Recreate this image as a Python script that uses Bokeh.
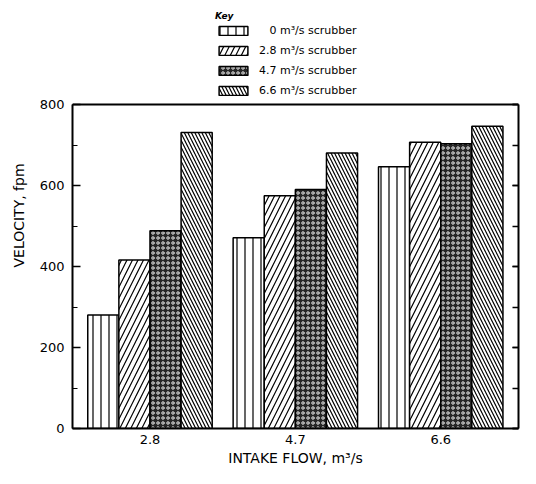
from bokeh.plotting import figure
from bokeh.models import (ColumnDataSource, Range1d, FixedTicker, SingleIntervalTicker,
                          LinearAxis, Legend, LegendItem, CustomJSTickFormatter, Span)
from bokeh.transform import dodge
from bokeh.embed import file_html
from bokeh.resources import INLINE

# ---- data ----
flows = ["2.8", "4.7", "6.6"]
scrub_0 = [280, 471, 646]
scrub_28 = [416, 575, 707]
scrub_47 = [488, 590, 703]
scrub_66 = [731, 680, 746]
series_labels = ["\u2007\u20080 m\u00b3/s scrubber", "2.8 m\u00b3/s scrubber",
                 "4.7 m\u00b3/s scrubber", "6.6 m\u00b3/s scrubber"]
y_max = 800
y_ticks_major = 200

FONT = "DejaVu Sans"

# ---- layout (pixels) ----
W, H = 520, 468
BORDER_TOP, BORDER_BOTTOM, BORDER_LEFT, BORDER_RIGHT = 2, 40, 72, 2
AXIS_TOP_PX = 104
frame_h = H - BORDER_TOP - BORDER_BOTTOM
plot_h = H - BORDER_BOTTOM - AXIS_TOP_PX
y_end = y_max * frame_h / plot_h   # extra head-room above the chart holds the key

src = ColumnDataSource(dict(x=list(range(len(flows))), s0=scrub_0, s28=scrub_28,
                            s47=scrub_47, s66=scrub_66))

p = figure(width=W, height=H, output_backend="svg", toolbar_location=None,
           x_range=Range1d(-0.533, len(flows) - 1 + 0.535), y_range=Range1d(0, y_end),
           min_border_left=BORDER_LEFT, min_border_right=BORDER_RIGHT,
           min_border_bottom=BORDER_BOTTOM, min_border_top=BORDER_TOP)

bw = 0.214
offs = [-1.5 * bw, -0.5 * bw, 0.5 * bw, 1.5 * bw]
styles = [
    dict(fill_color="white", hatch_pattern="vertical_line", hatch_scale=8, hatch_weight=1.2, hatch_color="black"),
    dict(fill_color="white", hatch_pattern="right_diagonal_line", hatch_scale=11, hatch_weight=1.2, hatch_color="black"),
    dict(fill_color="#262626", hatch_pattern="ring", hatch_scale=5, hatch_weight=1.0, hatch_color="#e8e8e8"),
    dict(fill_color="white", hatch_pattern="left_diagonal_line", hatch_scale=7, hatch_weight=1.2, hatch_color="black"),
]
cols = ["s0", "s28", "s47", "s66"]
renderers = []
for c, o, st in zip(cols, offs, styles):
    r = p.vbar(x=dodge("x", o, range=p.x_range), top=c, width=bw, source=src,
               line_color="black", line_width=1.5, **st)
    renderers.append(r)

# axes
p.xaxis.ticker = FixedTicker(ticks=list(range(len(flows))))
p.xaxis.major_label_overrides = {i: f for i, f in enumerate(flows)}
p.xaxis.major_tick_in = 0
p.xaxis.major_tick_out = 0
p.xaxis.minor_tick_line_color = None
p.xaxis.axis_label = "INTAKE FLOW, m\u00b3/s"
p.xaxis.major_label_standoff = 6
p.xaxis.axis_label_standoff = 3

p.yaxis.ticker = SingleIntervalTicker(interval=y_ticks_major, num_minor_ticks=2)
p.yaxis.bounds = (0, y_max)
p.yaxis.major_tick_in = 8
p.yaxis.major_tick_out = 0
p.yaxis.minor_tick_in = 5
p.yaxis.minor_tick_out = 0
p.yaxis.major_tick_line_color = "black"
p.yaxis.major_tick_line_width = 1.5
p.yaxis.axis_label = "VELOCITY, fpm"
p.yaxis.major_label_standoff = 8
p.yaxis.axis_label_standoff = 10

for ax in [p.xaxis[0], p.yaxis[0]]:
    ax.major_label_text_font = FONT
    ax.major_label_text_font_size = "13px"
    ax.major_label_text_color = "black"
    ax.axis_label_text_font = FONT
    ax.axis_label_text_font_size = "14px"
    ax.axis_label_text_font_style = "normal"
    ax.axis_label_text_color = "black"
    ax.axis_line_color = "black"
    ax.axis_line_width = 2

right = LinearAxis(ticker=SingleIntervalTicker(interval=y_ticks_major, num_minor_ticks=2),
                   formatter=CustomJSTickFormatter(code="return ''"), major_label_standoff=0,
                   bounds=(0, y_max),
                   major_tick_in=6, major_tick_out=0, minor_tick_in=6, minor_tick_out=0,
                   axis_line_width=2, major_tick_line_width=1.5, minor_tick_line_width=1.5)
p.add_layout(right, "right")

# top edge of the chart box
p.add_layout(Span(location=y_max, dimension="width", line_color="black", line_width=2))

p.xgrid.grid_line_color = None
p.ygrid.grid_line_color = None
p.outline_line_color = None

legend = Legend(items=[LegendItem(label=l, renderers=[r]) for l, r in zip(series_labels, renderers)],
                title="Key", title_text_font_style="bold italic", title_text_font_size="9px",
                title_text_font=FONT, title_standoff=3, title_text_color="black",
                label_text_font=FONT, label_text_font_size="11px", label_text_color="black",
                glyph_width=36, glyph_height=11, label_height=12, label_standoff=8,
                spacing=7, padding=0, margin=0, border_line_color=None,
                background_fill_alpha=0, location=(143, H - BORDER_BOTTOM - 97))
p.add_layout(legend, "center")

open("out.html", "w").write(file_html(p, INLINE))
